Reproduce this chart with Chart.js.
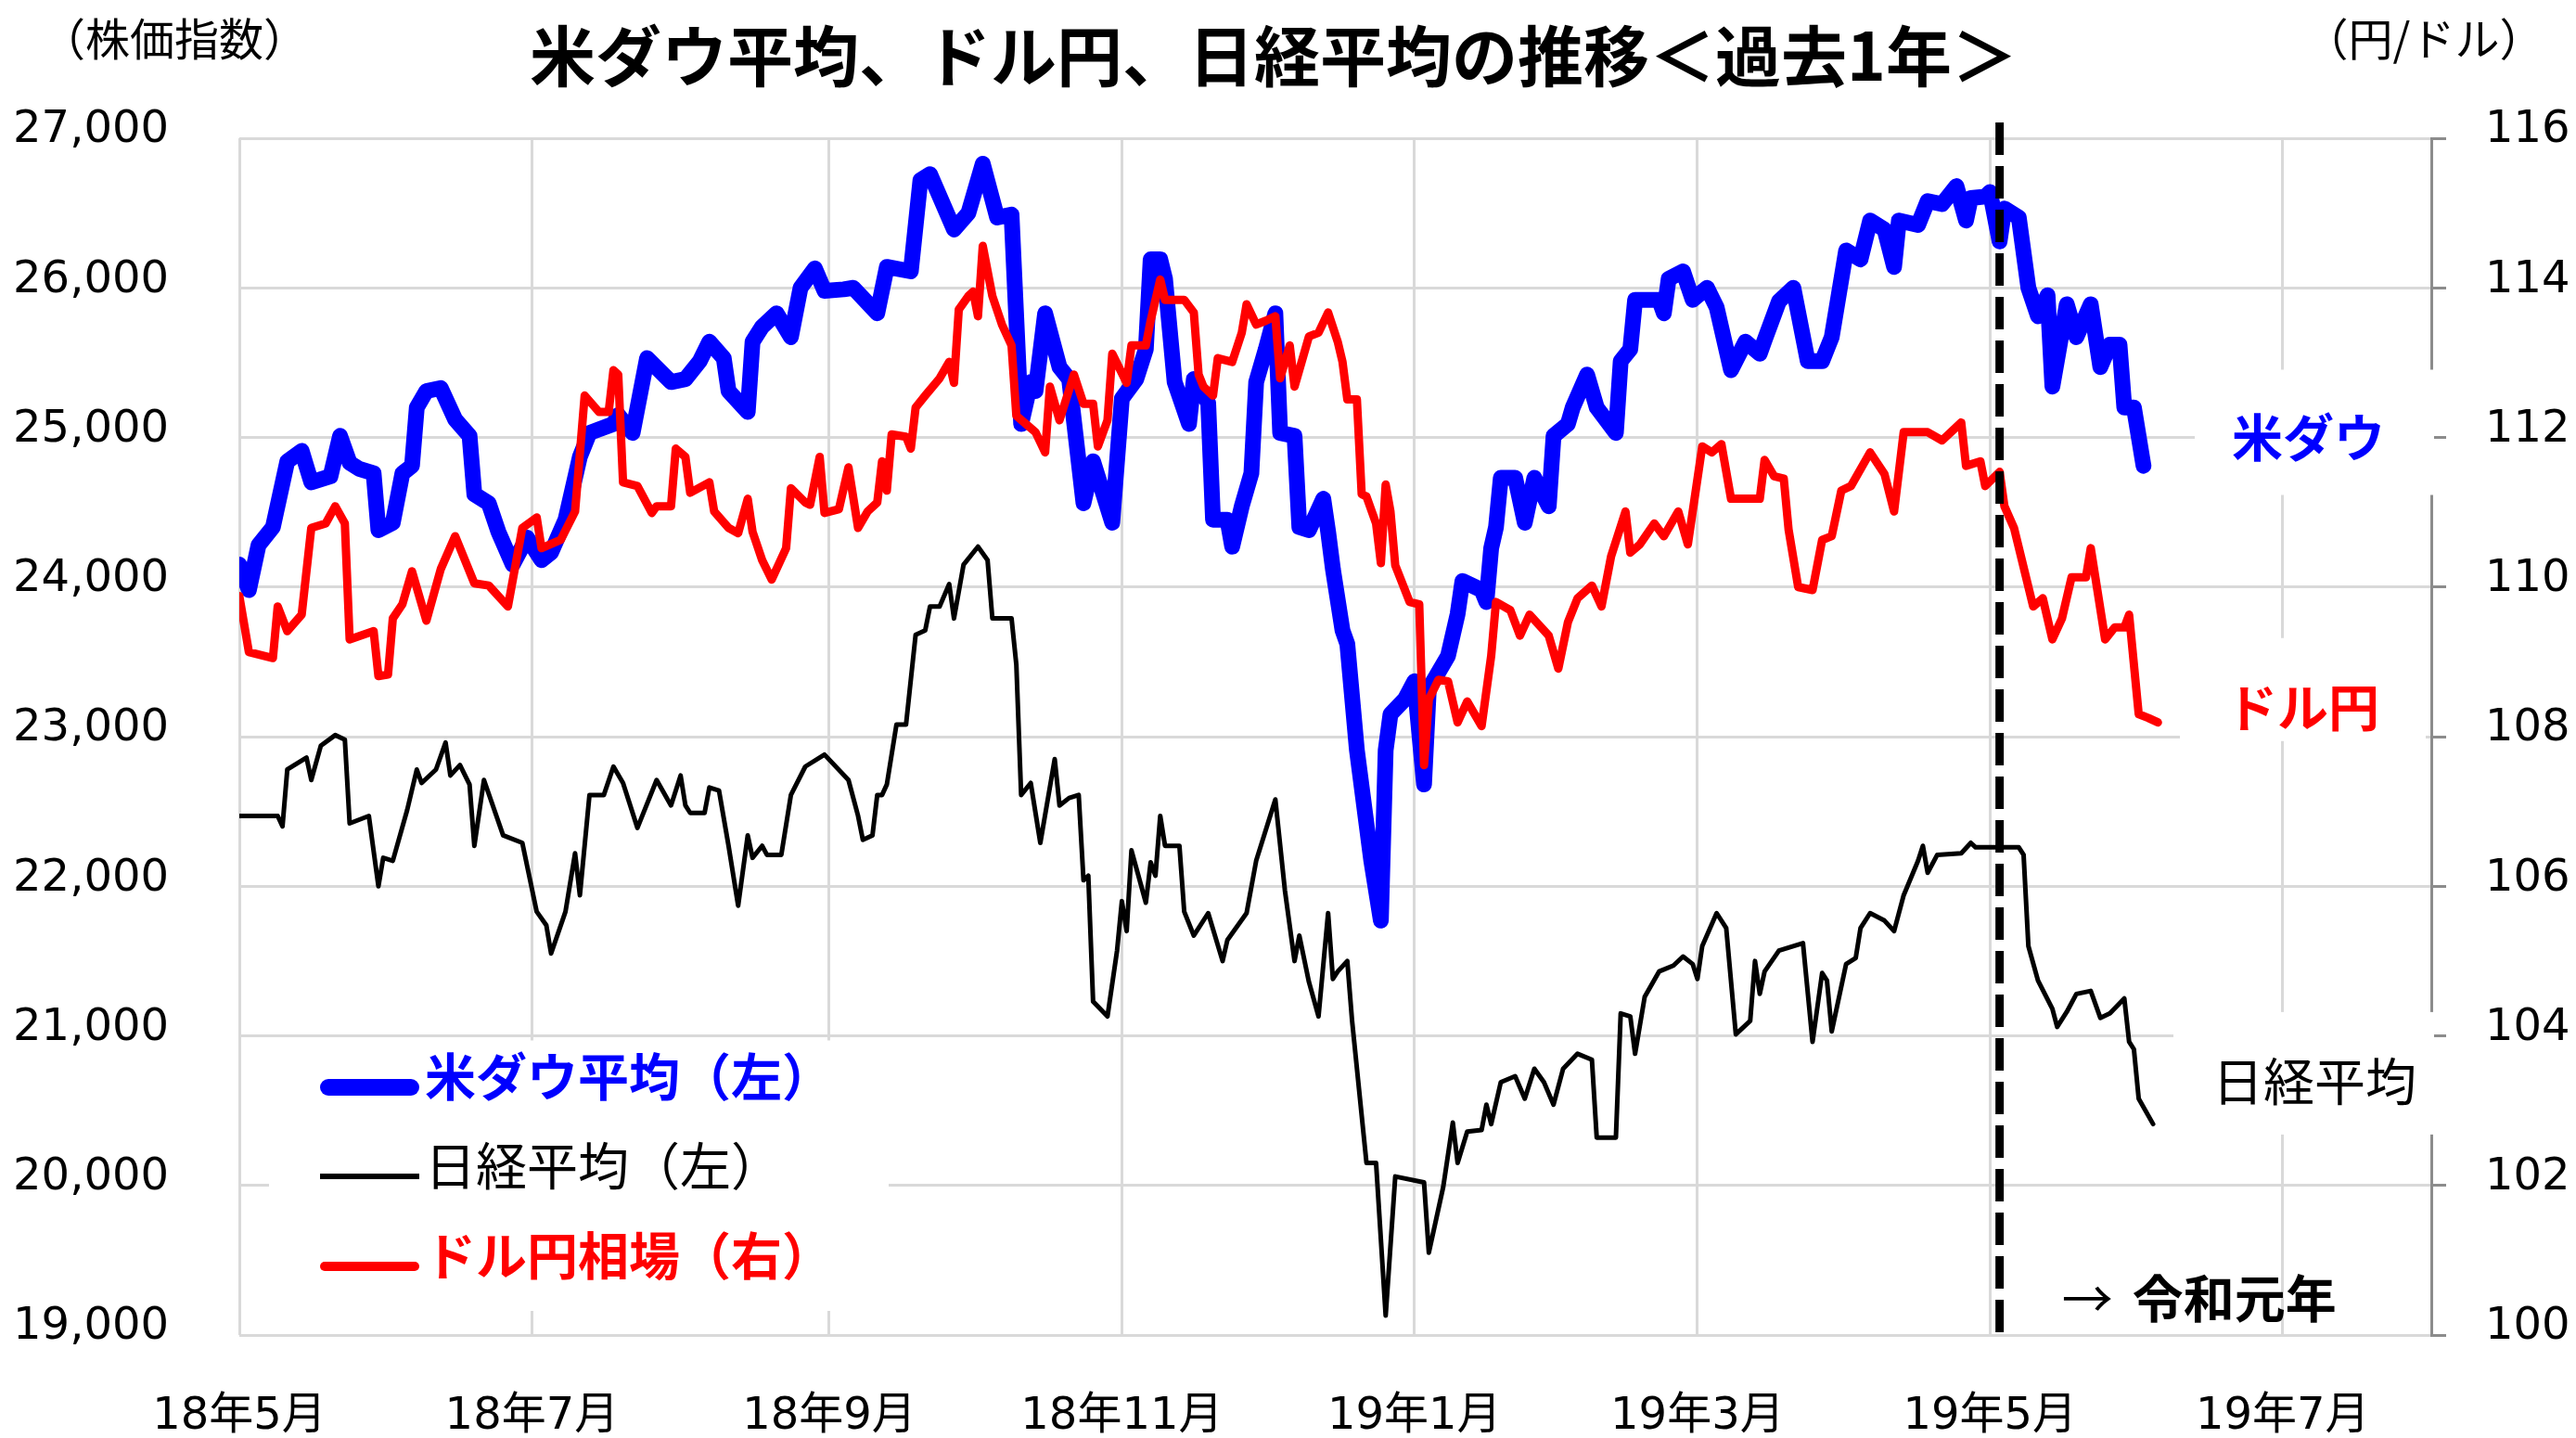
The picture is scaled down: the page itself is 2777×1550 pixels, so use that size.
<!DOCTYPE html>
<html><head><meta charset="utf-8">
<script src="https://cdn.jsdelivr.net/npm/chart.js@4.4.1/dist/chart.umd.min.js"></script>
<style>html,body{margin:0;padding:0;background:#fff;}canvas{display:block;}</style>
</head><body>
<canvas id="c" width="2777" height="1550" style="width:2777px;height:1550px"></canvas>
<script>
// ---------- texts ----------
const titleText = '米ダウ平均、ドル円、日経平均の推移＜過去1年＞';
const leftUnit = '（株価指数）';
const rightUnit = '（円/ドル）';
const seriesNames = ['米ダウ平均（左）', '日経平均（左）', 'ドル円相場（右）'];
const endLabels = ['米ダウ', 'ドル円', '日経平均'];
const eraArrow = '→';
const eraText = '令和元年';

// ---------- axes ----------
const xMinDate = '2018-05-01';
const xMaxDate = '2019-08-01';
const xTickDates = ['2018-05-01','2018-07-01','2018-09-01','2018-11-01','2019-01-01','2019-03-01','2019-05-01','2019-07-01'];
const xTickLabels = ['18年5月','18年7月','18年9月','18年11月','19年1月','19年3月','19年5月','19年7月'];
const leftMin = 19000, leftMax = 27000, leftStep = 1000;
const rightMin = 100, rightMax = 116, rightStep = 2;
const reiwaDate = '2019-05-03';

// ---------- data: NY Dow (left axis) ----------
const dowDates = ['2018-05-01','2018-05-03','2018-05-05','2018-05-08','2018-05-11','2018-05-14','2018-05-16','2018-05-20','2018-05-22','2018-05-24','2018-05-26','2018-05-29','2018-05-30','2018-06-02','2018-06-04','2018-06-06','2018-06-07','2018-06-09','2018-06-12','2018-06-15','2018-06-18','2018-06-19','2018-06-22','2018-06-24','2018-06-27','2018-06-30','2018-07-03','2018-07-05','2018-07-08','2018-07-11','2018-07-13','2018-07-18','2018-07-19','2018-07-22','2018-07-25','2018-07-30','2018-08-02','2018-08-05','2018-08-07','2018-08-10','2018-08-11','2018-08-15','2018-08-16','2018-08-18','2018-08-21','2018-08-24','2018-08-26','2018-08-29','2018-08-31','2018-09-04','2018-09-06','2018-09-11','2018-09-13','2018-09-18','2018-09-20','2018-09-22','2018-09-27','2018-09-30','2018-10-03','2018-10-06','2018-10-09','2018-10-11','2018-10-13','2018-10-14','2018-10-16','2018-10-19','2018-10-21','2018-10-24','2018-10-26','2018-10-30','2018-11-01','2018-11-04','2018-11-06','2018-11-07','2018-11-09','2018-11-10','2018-11-12','2018-11-15','2018-11-16','2018-11-19','2018-11-20','2018-11-23','2018-11-24','2018-11-26','2018-11-28','2018-11-29','2018-12-01','2018-12-03','2018-12-04','2018-12-07','2018-12-08','2018-12-10','2018-12-13','2018-12-14','2018-12-15','2018-12-17','2018-12-18','2018-12-20','2018-12-23','2018-12-25','2018-12-26','2018-12-27','2018-12-30','2019-01-01','2019-01-03','2019-01-04','2019-01-08','2019-01-10','2019-01-11','2019-01-15','2019-01-16','2019-01-17','2019-01-18','2019-01-19','2019-01-22','2019-01-24','2019-01-26','2019-01-29','2019-01-30','2019-02-02','2019-02-03','2019-02-06','2019-02-08','2019-02-12','2019-02-13','2019-02-15','2019-02-16','2019-02-21','2019-02-22','2019-02-23','2019-02-26','2019-02-28','2019-03-03','2019-03-05','2019-03-08','2019-03-11','2019-03-14','2019-03-15','2019-03-18','2019-03-21','2019-03-24','2019-03-27','2019-03-29','2019-04-01','2019-04-04','2019-04-06','2019-04-09','2019-04-11','2019-04-12','2019-04-16','2019-04-18','2019-04-21','2019-04-24','2019-04-26','2019-04-27','2019-04-30','2019-05-01','2019-05-03','2019-05-04','2019-05-07','2019-05-09','2019-05-11','2019-05-13','2019-05-14','2019-05-17','2019-05-19','2019-05-22','2019-05-24','2019-05-26','2019-05-28','2019-05-29','2019-05-31','2019-06-02'];
const dowValues = [24150,23980,24280,24400,24840,24910,24700,24740,25010,24830,24790,24760,24380,24430,24760,24810,25200,25310,25330,25120,25010,24620,24560,24370,24150,24330,24180,24230,24450,24870,25030,25090,25150,25030,25530,25370,25390,25510,25640,25530,25310,25170,25640,25740,25830,25670,26000,26130,25980,25990,26000,25830,26140,26110,26720,26760,26390,26500,26830,26470,26490,25090,25370,25310,25830,25470,25390,24560,24840,24430,25260,25390,25590,26190,26190,26060,25370,25090,25390,25230,24450,24450,24270,24540,24760,25370,25590,25830,25030,25010,24400,24380,24590,24370,24120,23710,23620,22910,22170,21770,22910,23150,23250,23370,22680,23320,23540,23820,24040,23980,23900,24260,24400,24730,24730,24430,24730,24540,25010,25090,25200,25420,25200,25030,25510,25590,25920,25920,25830,26060,26110,25920,26000,25870,25450,25640,25560,25650,25910,26000,25510,25510,25670,26250,26190,26450,26390,26140,26450,26420,26580,26560,26680,26450,26600,26610,26640,26310,26530,26470,26000,25810,25950,25340,25890,25670,25890,25470,25620,25620,25200,25200,24810];

// ---------- data: Nikkei 225 (left axis) ----------
const nikkeiDates = ['2018-05-01','2018-05-09','2018-05-10','2018-05-11','2018-05-15','2018-05-16','2018-05-18','2018-05-21','2018-05-23','2018-05-24','2018-05-28','2018-05-30','2018-05-31','2018-06-02','2018-06-05','2018-06-07','2018-06-08','2018-06-11','2018-06-13','2018-06-14','2018-06-16','2018-06-18','2018-06-19','2018-06-21','2018-06-25','2018-06-29','2018-07-02','2018-07-04','2018-07-05','2018-07-08','2018-07-10','2018-07-11','2018-07-13','2018-07-16','2018-07-18','2018-07-20','2018-07-23','2018-07-27','2018-07-30','2018-08-01','2018-08-02','2018-08-03','2018-08-06','2018-08-07','2018-08-09','2018-08-11','2018-08-13','2018-08-15','2018-08-16','2018-08-18','2018-08-19','2018-08-22','2018-08-24','2018-08-27','2018-08-31','2018-09-05','2018-09-07','2018-09-08','2018-09-10','2018-09-11','2018-09-12','2018-09-13','2018-09-15','2018-09-17','2018-09-19','2018-09-21','2018-09-22','2018-09-24','2018-09-26','2018-09-27','2018-09-29','2018-10-02','2018-10-04','2018-10-05','2018-10-09','2018-10-10','2018-10-11','2018-10-13','2018-10-15','2018-10-18','2018-10-19','2018-10-21','2018-10-23','2018-10-24','2018-10-25','2018-10-26','2018-10-29','2018-10-31','2018-11-01','2018-11-02','2018-11-03','2018-11-06','2018-11-07','2018-11-08','2018-11-09','2018-11-10','2018-11-13','2018-11-14','2018-11-16','2018-11-19','2018-11-22','2018-11-23','2018-11-27','2018-11-29','2018-12-03','2018-12-05','2018-12-07','2018-12-08','2018-12-10','2018-12-12','2018-12-14','2018-12-15','2018-12-16','2018-12-18','2018-12-19','2018-12-22','2018-12-24','2018-12-26','2018-12-28','2019-01-03','2019-01-04','2019-01-07','2019-01-09','2019-01-10','2019-01-12','2019-01-15','2019-01-16','2019-01-17','2019-01-19','2019-01-22','2019-01-24','2019-01-26','2019-01-28','2019-01-30','2019-02-01','2019-02-04','2019-02-07','2019-02-08','2019-02-12','2019-02-13','2019-02-15','2019-02-16','2019-02-18','2019-02-21','2019-02-24','2019-02-26','2019-02-28','2019-03-01','2019-03-02','2019-03-05','2019-03-07','2019-03-09','2019-03-12','2019-03-13','2019-03-14','2019-03-15','2019-03-18','2019-03-23','2019-03-25','2019-03-27','2019-03-28','2019-03-29','2019-04-01','2019-04-03','2019-04-04','2019-04-06','2019-04-09','2019-04-11','2019-04-13','2019-04-16','2019-04-17','2019-04-18','2019-04-20','2019-04-25','2019-04-27','2019-04-28','2019-05-07','2019-05-08','2019-05-09','2019-05-11','2019-05-14','2019-05-15','2019-05-17','2019-05-19','2019-05-22','2019-05-24','2019-05-26','2019-05-29','2019-05-30','2019-05-31','2019-06-01','2019-06-04'];
const nikkeiValues = [22470,22470,22400,22780,22860,22710,22940,23010,22980,22420,22470,22000,22190,22170,22510,22780,22690,22780,22960,22740,22810,22680,22270,22710,22340,22290,21830,21740,21550,21830,22220,21940,22610,22610,22800,22690,22390,22710,22540,22740,22540,22490,22490,22660,22640,22270,21870,22340,22190,22270,22210,22210,22610,22800,22880,22710,22470,22310,22340,22610,22610,22680,23080,23080,23680,23710,23870,23870,24020,23790,24150,24270,24180,23790,23790,23480,22610,22690,22290,22850,22540,22590,22610,22040,22070,21230,21130,21570,21900,21700,22240,21890,22160,22070,22470,22270,22270,21830,21670,21820,21500,21640,21820,22170,22580,21970,21500,21670,21360,21130,21820,21380,21430,21500,21100,20150,20150,19130,20060,20020,19550,19990,20420,20150,20360,20370,20540,20410,20690,20730,20580,20780,20690,20540,20780,20880,20840,20320,20320,21150,21130,20880,21260,21430,21470,21530,21480,21380,21600,21820,21720,21010,21100,21500,21280,21430,21570,21620,20960,21420,21370,21030,21480,21520,21720,21820,21770,21700,21940,22170,22270,22090,22210,22220,22290,22260,22260,22210,21600,21370,21180,21060,21160,21280,21300,21120,21150,21250,20960,20910,20580,20410];

// ---------- data: USD/JPY (right axis) ----------
const usdjpyDates = ['2018-05-01','2018-05-03','2018-05-08','2018-05-09','2018-05-11','2018-05-14','2018-05-16','2018-05-19','2018-05-21','2018-05-23','2018-05-24','2018-05-29','2018-05-30','2018-06-01','2018-06-02','2018-06-04','2018-06-06','2018-06-09','2018-06-12','2018-06-15','2018-06-19','2018-06-22','2018-06-26','2018-06-29','2018-07-02','2018-07-03','2018-07-07','2018-07-10','2018-07-12','2018-07-15','2018-07-17','2018-07-18','2018-07-19','2018-07-20','2018-07-23','2018-07-26','2018-07-27','2018-07-30','2018-07-31','2018-08-02','2018-08-03','2018-08-07','2018-08-08','2018-08-11','2018-08-13','2018-08-15','2018-08-16','2018-08-18','2018-08-20','2018-08-23','2018-08-24','2018-08-27','2018-08-28','2018-08-30','2018-08-31','2018-09-03','2018-09-05','2018-09-07','2018-09-09','2018-09-11','2018-09-12','2018-09-13','2018-09-14','2018-09-17','2018-09-18','2018-09-19','2018-09-21','2018-09-24','2018-09-26','2018-09-27','2018-09-28','2018-09-30','2018-10-01','2018-10-02','2018-10-03','2018-10-05','2018-10-07','2018-10-09','2018-10-10','2018-10-12','2018-10-14','2018-10-16','2018-10-17','2018-10-19','2018-10-22','2018-10-24','2018-10-26','2018-10-27','2018-10-29','2018-10-30','2018-11-02','2018-11-03','2018-11-06','2018-11-07','2018-11-09','2018-11-10','2018-11-14','2018-11-16','2018-11-17','2018-11-18','2018-11-20','2018-11-21','2018-11-24','2018-11-26','2018-11-27','2018-11-29','2018-12-01','2018-12-03','2018-12-04','2018-12-06','2018-12-07','2018-12-10','2018-12-12','2018-12-14','2018-12-16','2018-12-17','2018-12-18','2018-12-20','2018-12-21','2018-12-22','2018-12-24','2018-12-25','2018-12-26','2018-12-27','2018-12-28','2018-12-31','2019-01-02','2019-01-03','2019-01-04','2019-01-06','2019-01-08','2019-01-10','2019-01-12','2019-01-15','2019-01-17','2019-01-18','2019-01-21','2019-01-23','2019-01-25','2019-01-29','2019-01-31','2019-02-02','2019-02-04','2019-02-07','2019-02-09','2019-02-11','2019-02-14','2019-02-15','2019-02-17','2019-02-20','2019-02-22','2019-02-25','2019-02-27','2019-03-02','2019-03-04','2019-03-06','2019-03-08','2019-03-11','2019-03-14','2019-03-15','2019-03-17','2019-03-19','2019-03-20','2019-03-22','2019-03-25','2019-03-27','2019-03-29','2019-03-31','2019-04-02','2019-04-06','2019-04-09','2019-04-11','2019-04-13','2019-04-18','2019-04-21','2019-04-25','2019-04-26','2019-04-29','2019-04-30','2019-05-03','2019-05-04','2019-05-06','2019-05-10','2019-05-12','2019-05-14','2019-05-16','2019-05-18','2019-05-21','2019-05-22','2019-05-25','2019-05-27','2019-05-29','2019-05-30','2019-06-01','2019-06-03','2019-06-05'];
const usdjpyValues = [109.88,109.13,109.05,109.74,109.41,109.63,110.79,110.85,111.08,110.85,109.30,109.41,108.81,108.83,109.58,109.77,110.21,109.55,110.24,110.68,110.05,110.02,109.74,110.79,110.93,110.52,110.63,111.01,112.56,112.34,112.34,112.90,112.84,111.40,111.35,110.99,111.08,111.08,111.85,111.74,111.26,111.40,111.01,110.79,110.72,111.18,110.74,110.36,110.10,110.52,111.32,111.13,111.10,111.74,110.99,111.04,111.60,110.79,111.01,111.13,111.68,111.29,112.04,112.01,111.85,112.40,112.56,112.79,113.01,112.73,113.71,113.89,113.95,113.62,114.56,113.89,113.51,113.23,112.29,112.18,112.07,111.80,112.68,112.23,112.84,112.45,112.45,111.88,112.23,113.12,112.73,113.23,113.23,113.56,114.11,113.84,113.84,113.67,112.84,112.68,112.56,113.06,113.01,113.40,113.78,113.51,113.56,113.62,112.79,113.23,112.68,113.35,113.40,113.67,113.28,113.01,112.51,112.51,111.24,111.21,110.85,110.32,111.37,111.01,110.29,109.80,109.77,107.62,108.50,108.76,108.74,108.19,108.47,108.14,109.08,109.80,109.69,109.35,109.63,109.35,108.91,109.53,109.85,110.02,109.74,110.41,111.01,110.46,110.57,110.85,110.68,111.01,110.57,111.88,111.80,111.91,111.18,111.18,111.18,111.70,111.48,111.45,110.77,110.00,109.96,110.63,110.68,111.29,111.35,111.80,111.51,111.01,112.07,112.07,111.96,112.20,111.62,111.68,111.35,111.54,111.08,110.79,109.74,109.85,109.30,109.58,110.13,110.13,110.52,109.30,109.46,109.46,109.63,108.30,108.25,108.19];

// ---------- helpers ----------
const DAY = 86400000;
const t0 = Date.parse(xMinDate + 'T00:00:00Z');
const dayOf = s => Math.round((Date.parse(s + 'T00:00:00Z') - t0) / DAY);
const toPoints = (dates, vals) => dates.map((d, i) => ({ x: dayOf(d), y: vals[i] }));
const xTickDays = xTickDates.map(dayOf);
const xLabelByDay = {};
xTickDays.forEach((d, i) => { xLabelByDay[d] = xTickLabels[i]; });

const NUM_FONT = "'DejaVu Sans', 'Noto Sans CJK JP', sans-serif";
const JP_FONT = "'Noto Sans CJK JP', 'DejaVu Sans', sans-serif";
const GRID = '#d9d9d9';
const AXIS = '#8c8c8c';

const annotations = {
  id: 'annotations',
  afterDraw(chart) {
    const { ctx, chartArea: a, scales } = chart;
    const xs = scales.x, yl = scales.y, yr = scales.y1;
    ctx.save();

    // Reiwa dashed line
    const xr = xs.getPixelForValue(dayOf(reiwaDate));
    ctx.strokeStyle = '#000';
    ctx.lineWidth = 9;
    ctx.setLineDash([35, 12]);
    ctx.beginPath();
    ctx.moveTo(xr, a.top - 17);
    ctx.lineTo(xr, a.bottom + 5);
    ctx.stroke();
    ctx.setLineDash([]);

    // white backgrounds behind the end labels
    ctx.fillStyle = '#fff';
    const yDow = yl.getPixelForValue(25000);
    const yJpy = yr.getPixelForValue(108.4);
    const yNk = yl.getPixelForValue(20700);
    ctx.fillRect(a.right - 255, yDow - 73, 258, 135);
    ctx.fillRect(a.right - 271, yJpy - 74, 265, 111);
    ctx.fillRect(a.right - 278, yNk - 74, 281, 132);

    // legend box
    const lgTop = yl.getPixelForValue(21000) + 5;
    const lgBot = a.bottom - 26;
    ctx.fillRect(a.left + 32, lgTop, 668, lgBot - lgTop);

    // title & units
    ctx.fillStyle = '#000';
    ctx.textBaseline = 'middle';
    ctx.textAlign = 'center';
    ctx.font = "bold 71px " + JP_FONT;
    ctx.fillText(titleText, 1373, 60);
    ctx.font = "48px " + JP_FONT;
    ctx.fillText(leftUnit, 188, 42);
    ctx.fillText(rightUnit, 2613, 42);

    // legend entries
    const rows = [
      { y: 1172, color: '#0000ff', w: 18, cap: 'round', bold: true, text: seriesNames[0] },
      { y: 1268, color: '#000000', w: 6, cap: 'butt', bold: false, text: seriesNames[1] },
      { y: 1365, color: '#ff0000', w: 10, cap: 'round', bold: true, text: seriesNames[2] },
    ];
    ctx.textAlign = 'left';
    rows.forEach(r => {
      ctx.strokeStyle = r.color;
      ctx.lineWidth = r.w;
      ctx.lineCap = r.cap;
      ctx.beginPath();
      const inset = r.cap === 'round' ? r.w / 2 : 0;
      ctx.moveTo(345 + inset, r.y);
      ctx.lineTo(452 - inset, r.y);
      ctx.stroke();
      ctx.fillStyle = r.color;
      ctx.font = (r.bold ? 'bold ' : '') + '55px ' + JP_FONT;
      ctx.fillText(r.text, 458, r.y - 12);
    });

    // end labels
    ctx.font = 'bold 55px ' + JP_FONT;
    ctx.fillStyle = '#0000ff';
    ctx.fillText(endLabels[0], a.right - 215, yDow);
    ctx.fillStyle = '#ff0000';
    ctx.fillText(endLabels[1], a.right - 221, yJpy);
    ctx.font = '55px ' + JP_FONT;
    ctx.fillStyle = '#000';
    ctx.fillText(endLabels[2], a.right - 236, yNk);

    // Reiwa label
    const yEra = yl.getPixelForValue(19250);
    ctx.font = '55px ' + JP_FONT;
    ctx.fillText(eraArrow, xr + 67, yEra);
    ctx.font = 'bold 55px ' + JP_FONT;
    ctx.fillText(eraText, xr + 143, yEra);
    ctx.restore();
  }
};

new Chart(document.getElementById('c'), {
  type: 'line',
  data: {
    datasets: [
      { label: seriesNames[2], data: toPoints(usdjpyDates, usdjpyValues), yAxisID: 'y1',
        borderColor: '#ff0000', borderWidth: 9, order: 1 },
      { label: seriesNames[0], data: toPoints(dowDates, dowValues), yAxisID: 'y',
        borderColor: '#0000ff', borderWidth: 17, order: 2 },
      { label: seriesNames[1], data: toPoints(nikkeiDates, nikkeiValues), yAxisID: 'y',
        borderColor: '#000000', borderWidth: 5, order: 3 },
    ]
  },
  options: {
    responsive: false,
    animation: false,
    devicePixelRatio: 1,
    layout: { padding: { top: 149, left: 0, right: 0, bottom: 0 } },
    elements: {
      point: { radius: 0, hoverRadius: 0 },
      line: { tension: 0, borderJoinStyle: 'round', borderCapStyle: 'round', fill: false }
    },
    plugins: { legend: { display: false }, title: { display: false }, tooltip: { enabled: false } },
    events: [],
    scales: {
      x: {
        type: 'linear',
        min: dayOf(xMinDate),
        max: dayOf(xMaxDate),
        afterBuildTicks: s => { s.ticks = xTickDays.map(v => ({ value: v })); },
        afterFit: s => { s.height = 111; },
        grid: { color: GRID, lineWidth: 3, drawTicks: false },
        border: { display: false },
        ticks: {
          autoSkip: false, maxRotation: 0, padding: 60,
          color: '#000', font: { family: NUM_FONT, size: 48 },
          callback: v => xLabelByDay[v] || ''
        }
      },
      y: {
        position: 'left',
        min: leftMin, max: leftMax,
        afterFit: s => { s.width = 258; },
        grid: { color: GRID, lineWidth: 3, drawTicks: false },
        border: { display: false },
        ticks: {
          stepSize: leftStep, padding: 76, labelOffset: -8,
          color: '#000', font: { family: NUM_FONT, size: 48 },
          callback: v => v.toLocaleString('en-US')
        }
      },
      y1: {
        position: 'right',
        min: rightMin, max: rightMax,
        afterFit: s => { s.width = 156; },
        grid: { drawOnChartArea: false, drawTicks: true, tickLength: 16, color: AXIS, lineWidth: 3 },
        border: { display: true, color: AXIS, width: 3 },
        ticks: {
          stepSize: rightStep, padding: 42, labelOffset: -8,
          color: '#000', font: { family: NUM_FONT, size: 48 },
          callback: v => String(v)
        }
      }
    }
  },
  plugins: [annotations]
});
</script>
</body></html>
